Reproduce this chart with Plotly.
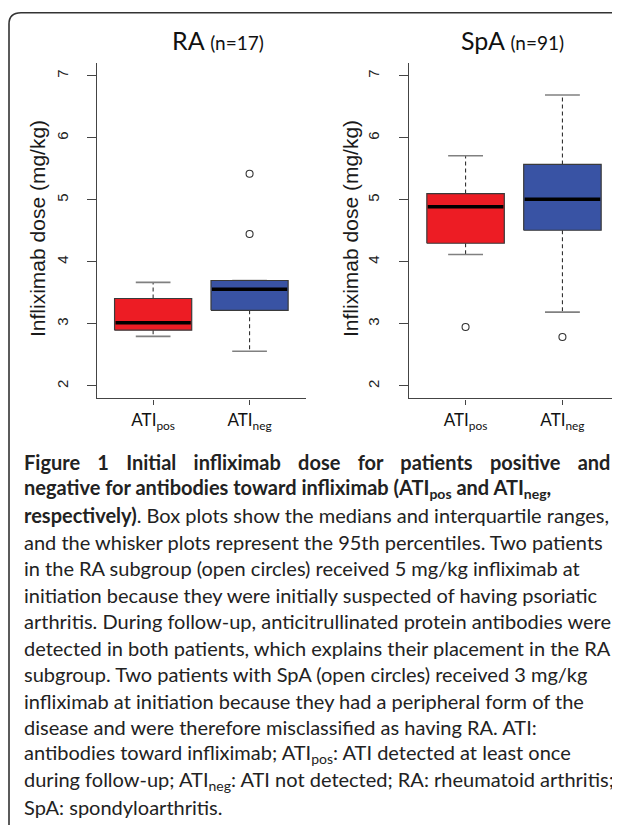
import plotly.graph_objects as go

# ---------------- data ----------------
groups = ["ATIpos", "ATIneg"]
tick_text = ["ATI<sub>pos</sub>", "ATI<sub>neg</sub>"]
box_colors = ["#ED1C24", "#3953A4"]

ra_q1 = [2.90, 3.22]
ra_median = [3.02, 3.56]
ra_q3 = [3.41, 3.70]
ra_low = [2.80, 2.56]
ra_high = [3.67, 3.70]
ra_outliers = [[], [4.45, 5.42]]

spa_q1 = [4.30, 4.51]
spa_median = [4.89, 5.01]
spa_q3 = [5.10, 5.57]
spa_low = [4.12, 3.19]
spa_high = [5.71, 6.69]
spa_outliers = [[2.95], [2.79]]

y_ticks = [2, 3, 4, 5, 6, 7]

caption_lines = [
    "<b><span style='word-spacing:12.4px'>Figure 1 Initial infliximab dose for patients positive and</span></b>",
    "<b>negative for antibodies toward infliximab (ATI<sub>pos</sub> and ATI<sub>neg</sub>,</b>",
    "<b>respectively)</b>. Box plots show the medians and interquartile ranges,",
    "and the whisker plots represent the 95th percentiles. Two patients",
    "in the RA subgroup (open circles) received 5 mg/kg infliximab at",
    "initiation because they were initially suspected of having psoriatic",
    "arthritis. During follow-up, anticitrullinated protein antibodies were",
    "detected in both patients, which explains their placement in the RA",
    "subgroup. Two patients with SpA (open circles) received 3 mg/kg",
    "infliximab at initiation because they had a peripheral form of the",
    "disease and were therefore misclassified as having RA. ATI:",
    "antibodies toward infliximab; ATI<sub>pos</sub>: ATI detected at least once",
    "during follow-up; ATI<sub>neg</sub>: ATI not detected; RA: rheumatoid arthritis;",
    "SpA: spondyloarthritis.",
]

W, H = 620, 825
OFF = 8  # page body margin
BOX_HALF = 0.4
CAP_HALF = 0.18


def px(x):
    return (x - OFF) / W


def py(y):
    return 1 - (y - OFF) / H


fig = go.Figure()


def add_panel(q1, med, q3, lo, hi, outl, xa, ya):
    for i in range(len(groups)):
        p = i + 1
        # whiskers (dashed)
        fig.add_trace(go.Scatter(
            x=[p, p, None, p, p], y=[q3[i], hi[i], None, q1[i], lo[i]],
            mode="lines", line=dict(color="#333333", width=1.1, dash="4px,3px"),
            xaxis=xa, yaxis=ya, showlegend=False, hoverinfo="skip"))
        # caps
        fig.add_trace(go.Scatter(
            x=[p - CAP_HALF, p + CAP_HALF, None, p - CAP_HALF, p + CAP_HALF],
            y=[hi[i], hi[i], None, lo[i], lo[i]],
            mode="lines", line=dict(color="#808080", width=1.6),
            xaxis=xa, yaxis=ya, showlegend=False, hoverinfo="skip"))
        # box
        fig.add_trace(go.Scatter(
            x=[p - BOX_HALF, p + BOX_HALF, p + BOX_HALF, p - BOX_HALF, p - BOX_HALF],
            y=[q1[i], q1[i], q3[i], q3[i], q1[i]],
            mode="lines", fill="toself", fillcolor=box_colors[i],
            line=dict(color="#3a3a3a", width=1.2),
            xaxis=xa, yaxis=ya, showlegend=False, hoverinfo="skip"))
        # median
        fig.add_trace(go.Scatter(
            x=[p - BOX_HALF + 0.01, p + BOX_HALF - 0.01], y=[med[i], med[i]],
            mode="lines", line=dict(color="#000000", width=3.5),
            xaxis=xa, yaxis=ya, showlegend=False, hoverinfo="skip"))
        # outliers
        if outl[i]:
            fig.add_trace(go.Scatter(
                x=[p] * len(outl[i]), y=outl[i], mode="markers",
                marker=dict(symbol="circle-open", size=7, color="#333333",
                            line=dict(width=1.1)),
                xaxis=xa, yaxis=ya, showlegend=False, hoverinfo="skip"))


add_panel(ra_q1, ra_median, ra_q3, ra_low, ra_high, ra_outliers, "x", "y")
add_panel(spa_q1, spa_median, spa_q3, spa_low, spa_high, spa_outliers, "x2", "y2")

xcommon = dict(range=[0.42, 2.58], tickvals=[1, 2], ticktext=tick_text,
               showline=True, linecolor="#444444", linewidth=1.3,
               ticks="outside", ticklen=5, tickcolor="#444444", tickwidth=1.2,
               showgrid=False, zeroline=False, fixedrange=True,
               tickfont=dict(family="Lato", size=17, color="#111111"),
               ticklabelstandoff=1)
ycommon = dict(range=[1.8, 7.2], tickvals=y_ticks,
               showline=True, linecolor="#444444", linewidth=1.3,
               ticks="outside", ticklen=9, tickcolor="#444444", tickwidth=1.2,
               showgrid=False, zeroline=False, fixedrange=True, tickangle=-90,
               tickfont=dict(family="Liberation Sans", size=15, color="#222222"))

fig.update_layout(
    width=W, height=H,
    margin=dict(l=0, r=0, t=0, b=0),
    paper_bgcolor="white", plot_bgcolor="white",
    xaxis=dict(domain=[px(97.2), px(305.5)], anchor="y", **xcommon),
    yaxis=dict(domain=[py(398.4), py(63.3)], anchor="x", ticklabelstandoff=13, **ycommon),
    xaxis2=dict(domain=[px(409.4), px(618.6)], anchor="y2", **xcommon),
    yaxis2=dict(domain=[py(398.4), py(63.3)], anchor="x2", ticklabelstandoff=14, **ycommon),
)

annotations = []
# y-axis titles
for xc in (38, 351):
    annotations.append(dict(
        text="Infliximab dose (mg/kg)", x=px(xc), y=py(229), xref="paper", yref="paper",
        xanchor="center", yanchor="middle", textangle=-90, showarrow=False,
        font=dict(family="Liberation Sans", size=21, color="#1a1a1a")))
# panel titles
annotations.append(dict(
    text="RA <span style='font-size:19px'>(n=17)</span>", x=px(170), y=py(40),
    xref="paper", yref="paper", xanchor="left", yanchor="middle", showarrow=False,
    font=dict(family="Lato", size=25, color="#111111")))
annotations.append(dict(
    text="SpA <span style='font-size:19px'>(n=91)</span>", x=px(566), y=py(40),
    xref="paper", yref="paper", xanchor="right", yanchor="middle", showarrow=False,
    font=dict(family="Lato", size=25, color="#111111")))
# caption
for k, line in enumerate(caption_lines):
    annotations.append(dict(
        text=line, x=px(22), y=py(462 + 26.5 * k), xref="paper", yref="paper",
        xanchor="left", yanchor="middle", showarrow=False, align="left",
        font=dict(family="Lato", size=20, color="#222222")))
fig.update_layout(annotations=annotations)

# rounded frame
fig.add_shape(type="path",
              path=f"M {px(9)},{py(850)} L {px(9)},{py(24)} Q {px(9)},{py(12.7)} {px(21)},{py(12.7)} L {px(660)},{py(12.7)}",
              xref="paper", yref="paper", line=dict(color="#333333", width=1.6))

fig.write_html("out.html")
